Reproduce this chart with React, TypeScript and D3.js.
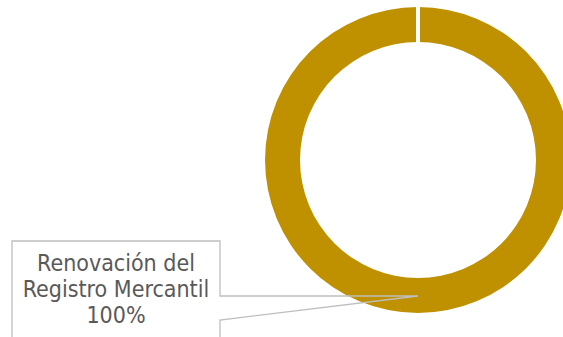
import React from "react";
import * as d3 from "d3";

const categories = ["Renovación del Registro Mercantil"];
const values = [100];
const labelLines = ["Renovación del", "Registro Mercantil", "100%"];

export default function App() {
  const W = 563, H = 337;
  const cx = 418, cy = 160, rOuter = 153, rInner = 118;
  const pie = d3.pie<number>().sort(null).startAngle(0).endAngle(2 * Math.PI)(values);
  const arc = d3.arc<d3.PieArcDatum<number>>().innerRadius(rInner).outerRadius(rOuter);
  const gapX = cx;
  const bx = 12, by = 241, bw = 208, bh = 110;
  const tip: [number, number] = [cx, 296];
  return (
    <svg width={W} height={H} style={{ position: "absolute", left: 0, top: 0 }}>
      <rect width={W} height={H} fill="#fff" />
      <g transform={`translate(${cx},${cy})`}>
        {pie.map((d, i) => (
          <path key={categories[i]} d={arc(d) || ""} fill="#BF9000" />
        ))}
      </g>
      <line x1={gapX} x2={gapX} y1={cy - rOuter - 2} y2={cy - rInner + 1} stroke="#fff" strokeWidth={4} />
      <path
        d={`M${bx},${by + bh} L${bx},${by} L${bx + bw},${by} L${bx + bw},296 L${tip[0]},${tip[1]} L${bx + bw},320 L${bx + bw},${by + bh}`}
        fill="none"
        stroke="#BFBFBF"
        strokeWidth={1.3}
      />
      <rect x={bx + 1} y={by + 1} width={bw - 2} height={bh} fill="#fff" />
      <g fontFamily="'DejaVu Sans Condensed', 'DejaVu Sans', sans-serif" fontStretch="condensed" fontSize={23} fill="#595959" textAnchor="middle">
        {labelLines.map((t, i) => (
          <text key={i} x={bx + bw / 2} y={271 + i * 26}>{t}</text>
        ))}
      </g>
    </svg>
  );
}
